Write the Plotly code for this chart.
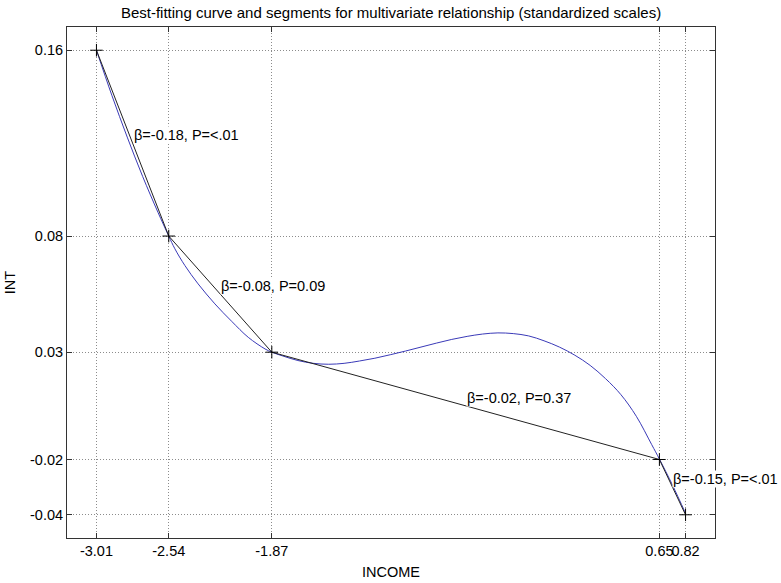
import plotly.graph_objects as go

# Segment breakpoints (INCOME, INT) on standardized scales
seg_x = [-3.01, -2.54, -1.87, 0.65, 0.82]
seg_y = [0.16, 0.08, 0.03, -0.0162, -0.04]
seg_labels = ["β=-0.18, P=<.01", "β=-0.08, P=0.09", "β=-0.02, P=0.37", "β=-0.15, P=<.01"]

# Best-fitting curve
curve_x = [-3.01, -2.91, -2.81, -2.71, -2.61, -2.54, -2.50, -2.435, -2.349, -2.24,
           -2.131, -2.023, -1.914, -1.87, -1.80, -1.70, -1.60, -1.50, -1.40, -1.30,
           -1.20, -1.10, -1.00, -0.90, -0.80, -0.70, -0.60, -0.50, -0.40, -0.30,
           -0.20, -0.10, 0.00, 0.10, 0.20, 0.30, 0.40, 0.50, 0.60, 0.65,
           0.735, 0.82]
curve_y = [0.160, 0.1406, 0.1226, 0.1057, 0.0902, 0.080, 0.0745, 0.0673, 0.0594, 0.0508,
           0.0433, 0.0364, 0.0314, 0.0300, 0.0284, 0.0264, 0.0252, 0.0248, 0.0252, 0.0262,
           0.0274, 0.0289, 0.0305, 0.0322, 0.0339, 0.0355, 0.0368, 0.0378, 0.0383, 0.0380,
           0.0370, 0.0349, 0.0322, 0.0287, 0.0243, 0.0186, 0.0117, 0.0024, -0.0098, -0.0160,
           -0.0272, -0.0394]

x_ticktext = ["-3.01", "-2.54", "-1.87", "0.65", "0.82"]
y_ticktext = ["0.16", "0.08", "0.03", "-0.02", "-0.04"]

FONT = "Liberation Sans, Arial, sans-serif"

fig = go.Figure()
fig.add_trace(go.Scatter(x=curve_x, y=curve_y, mode="lines",
                         line=dict(color="#3a3ab8", width=1, shape="spline", smoothing=1.0),
                         hoverinfo="skip", showlegend=False))
fig.add_trace(go.Scatter(x=seg_x, y=seg_y, mode="lines+markers",
                         line=dict(color="#222222", width=1),
                         marker=dict(symbol="cross-thin", size=9,
                                     line=dict(color="black", width=1), color="black"),
                         showlegend=False))

xr = max(seg_x) - min(seg_x)
yr = max(seg_y) - min(seg_y)

for i, lab in enumerate(seg_labels):
    mx = (seg_x[i] + seg_x[i + 1]) / 2
    my = (seg_y[i] + seg_y[i + 1]) / 2
    fig.add_annotation(x=mx, y=my, xref="x", yref="y", text=lab, showarrow=False,
                       xanchor="left", yanchor="middle", yshift=8,
                       bgcolor="white", borderpad=0,
                       font=dict(family=FONT, size=14.5, color="black"))

axis_common = dict(showline=True, linecolor="#333333", linewidth=1, mirror="ticks",
                   ticks="inside", ticklen=5, tickcolor="#333333",
                   showgrid=True, gridcolor="#8c8c8c", gridwidth=1, griddash="1px,2px",
                   zeroline=False, automargin=False,
                   tickfont=dict(family=FONT, size=14.5, color="black"))

fig.update_xaxes(range=[min(seg_x) - 0.05 * xr, max(seg_x) + 0.05 * xr],
                 tickmode="array", tickvals=seg_x, ticktext=x_ticktext, tickangle=0,
                 title=dict(text="INCOME", font=dict(family=FONT, size=14.5, color="black"),
                            standoff=8),
                 **axis_common)
fig.update_yaxes(range=[min(seg_y) - 0.05 * yr, max(seg_y) + 0.05 * yr],
                 tickmode="array", tickvals=seg_y, ticktext=y_ticktext,
                 title=dict(text="INT", font=dict(family=FONT, size=14.5, color="black"),
                            standoff=10),
                 **axis_common)

fig.update_layout(
    width=781, height=583,
    margin=dict(l=67, r=66, t=27, b=45, autoexpand=False),
    paper_bgcolor="white", plot_bgcolor="white",
    title=dict(text="Best-fitting curve and segments for multivariate relationship (standardized scales)",
               x=0.5, xref="paper", xanchor="center", y=1 - 13 / 583, yanchor="middle",
               font=dict(family=FONT, size=15, color="black")),
)

fig.write_html("out.html", config={"displayModeBar": False},
               post_script="document.body.style.margin='0';")
